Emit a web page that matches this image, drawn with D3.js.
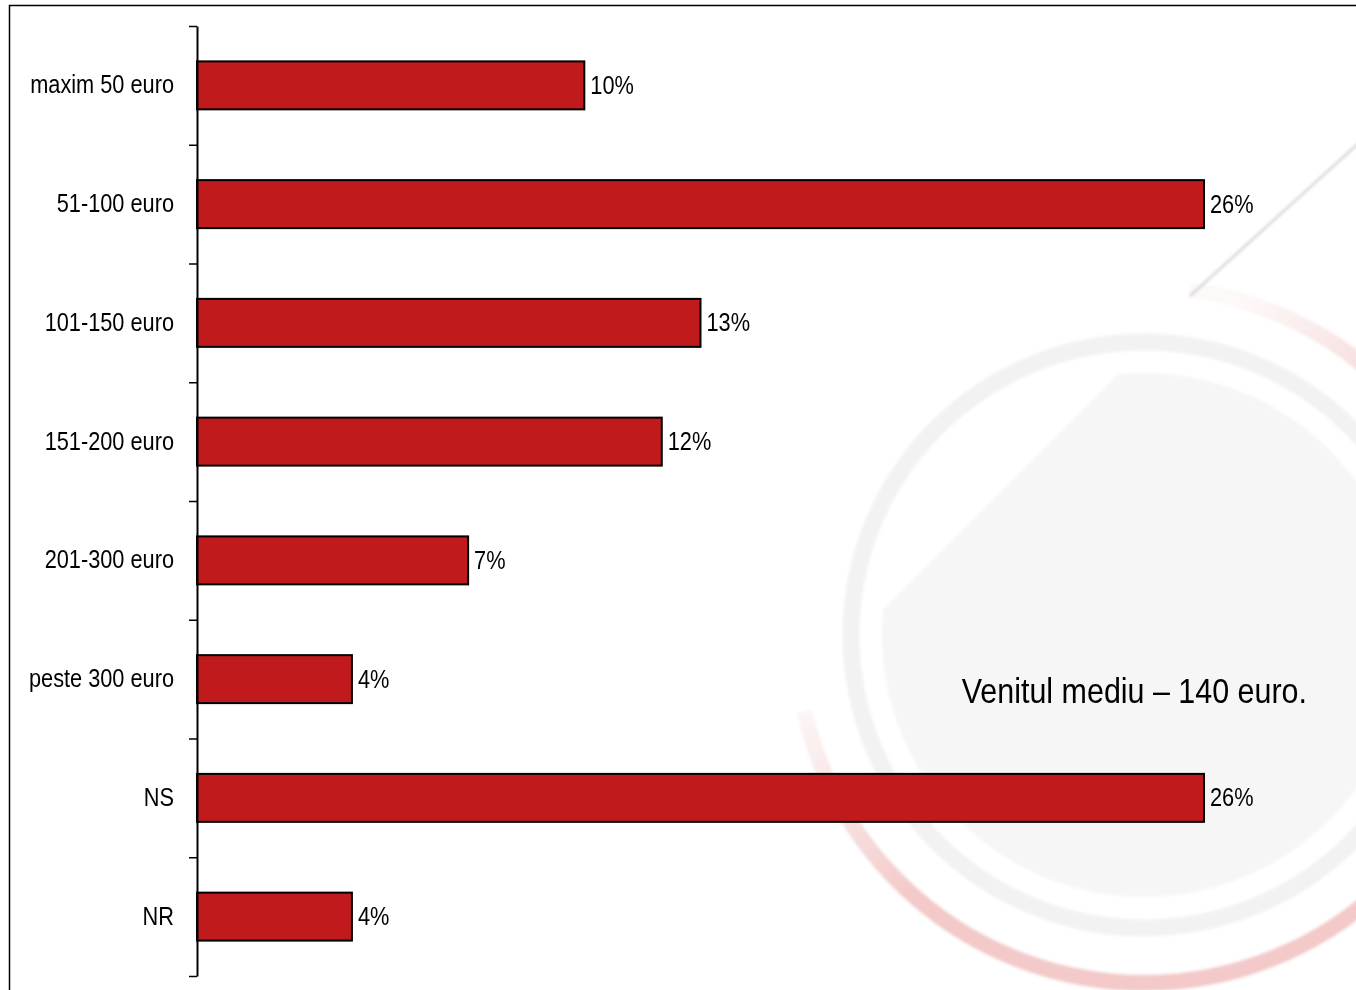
<!DOCTYPE html>
<html>
<head>
<meta charset="utf-8">
<script src="https://cdn.jsdelivr.net/npm/d3@7"></script>
<style>
  body { margin: 0; background: #fff; }
  svg { display: block; }
  text { font-family: "Liberation Sans Narrow", "Arial Narrow", "Liberation Sans", Arial, sans-serif; }
</style>
</head>
<body>
<div id="chart"></div>
<script>
// chart data
const categories = ['maxim 50 euro', '51-100 euro', '101-150 euro', '151-200 euro',
                    '201-300 euro', 'peste 300 euro', 'NS', 'NR'];
const values = [10, 26, 13, 12, 7, 4, 26, 4];
const note = 'Venitul mediu \u2013 140 euro.';

const width = 1356, height = 990;
const narrow = 0.87; // squeeze the sans font to look like Arial Narrow

const svg = d3.select('#chart').append('svg')
    .attr('width', width)
    .attr('height', height);

// --- faded logo watermark behind the chart ---
const cx = 1144, cy = 635;
const defs = svg.append('defs');

defs.append('filter').attr('id', 'soft')
  .append('feGaussianBlur').attr('stdDeviation', 1.6);

// gradient in the arc's own (translated) coordinates
const grad = defs.append('linearGradient')
    .attr('id', 'redFade')
    .attr('gradientUnits', 'userSpaceOnUse')
    .attr('x1', -350).attr('y1', 60).attr('x2', -200).attr('y2', 230);
grad.append('stop').attr('offset', 0).attr('stop-color', '#f4d2d2').attr('stop-opacity', 0.15);
grad.append('stop').attr('offset', 1).attr('stop-color', '#f3c9c9').attr('stop-opacity', 1);

defs.append('clipPath').attr('id', 'cut')
  .append('polygon')
    .attr('points', '1492,0 2000,0 2000,1200 0,1200 0,1492');

const logo = svg.append('g')
    .attr('class', 'watermark')
    .attr('filter', 'url(#soft)');

logo.append('path')
    .attr('transform', `translate(${cx},${cy})`)
    .attr('d', d3.arc()({ innerRadius: 340, outerRadius: 356,
                          startAngle: 0.13, endAngle: Math.PI * 1.43 }))
    .attr('fill', 'url(#redFade)');

logo.append('circle')
    .attr('cx', cx).attr('cy', cy).attr('r', 293)
    .attr('fill', 'none')
    .attr('stroke', '#f2f2f2')
    .attr('stroke-width', 17);

logo.append('circle')
    .attr('cx', cx).attr('cy', cy).attr('r', 262)
    .attr('fill', '#f6f6f6')
    .attr('clip-path', 'url(#cut)');

logo.append('line')
    .attr('x1', 1360).attr('y1', 142)
    .attr('x2', 1190).attr('y2', 296)
    .attr('stroke', '#cdcdcd')
    .attr('stroke-width', 2);

// --- frame ---
svg.append('rect')
    .attr('x', 9.5).attr('y', 5.5)
    .attr('width', 1360).attr('height', 1000)
    .attr('fill', 'none')
    .attr('stroke', '#000')
    .attr('stroke-width', 1.5);

// --- scales ---
const plotTop = 26, plotBottom = 976, plotLeft = 197;
const x = d3.scaleLinear().domain([0, 26]).range([plotLeft, 1204]);
const y = d3.scaleBand()
    .domain(categories)
    .range([plotTop, plotBottom])
    .paddingInner(0.596)
    .paddingOuter(0.298);

// bars
svg.selectAll('rect.bar')
    .data(values)
    .enter()
    .append('rect')
    .attr('class', 'bar')
    .attr('x', x(0))
    .attr('y', (d, i) => y(categories[i]))
    .attr('width', d => x(d) - x(0))
    .attr('height', y.bandwidth())
    .attr('fill', '#c01a1c')
    .attr('stroke', '#000')
    .attr('stroke-width', 2);

// value labels
svg.selectAll('text.val')
    .data(values)
    .enter()
    .append('text')
    .attr('class', 'val')
    .attr('transform', (d, i) =>
        `translate(${x(d) + 6},${y(categories[i]) + y.bandwidth() / 2}) scale(${narrow},1)`)
    .attr('dy', '0.34em')
    .style('font-size', '25px')
    .attr('fill', '#000')
    .text(d => d + '%');

// category axis: line with ticks between the bands
const edges = d3.scaleLinear().domain([0, categories.length]).range([plotTop, plotBottom]);
const tickAxis = svg.append('g')
    .attr('transform', `translate(${plotLeft},0)`)
    .call(d3.axisLeft(edges)
        .tickValues(d3.range(categories.length + 1))
        .tickSize(8)
        .tickSizeOuter(0)
        .tickFormat(''));
tickAxis.select('.domain').attr('stroke', '#000').attr('stroke-width', 2);
tickAxis.selectAll('.tick line').attr('stroke', '#000').attr('stroke-width', 1.5);

const labelAxis = svg.append('g')
    .attr('transform', `translate(${plotLeft},0)`)
    .attr('font-family', null)
    .call(d3.axisLeft(y).tickSize(0).tickPadding(23));
labelAxis.select('.domain').remove();
labelAxis.selectAll('text')
    .attr('x', -23 / narrow)
    .attr('transform', `scale(${narrow},1)`)
    .style('font-size', '25px')
    .attr('fill', '#000');

// note
svg.append('text')
    .attr('transform', `translate(1307,703) scale(${narrow},1)`)
    .attr('text-anchor', 'end')
    .style('font-size', '35px')
    .attr('fill', '#000')
    .text(note);
</script>
</body>
</html>
